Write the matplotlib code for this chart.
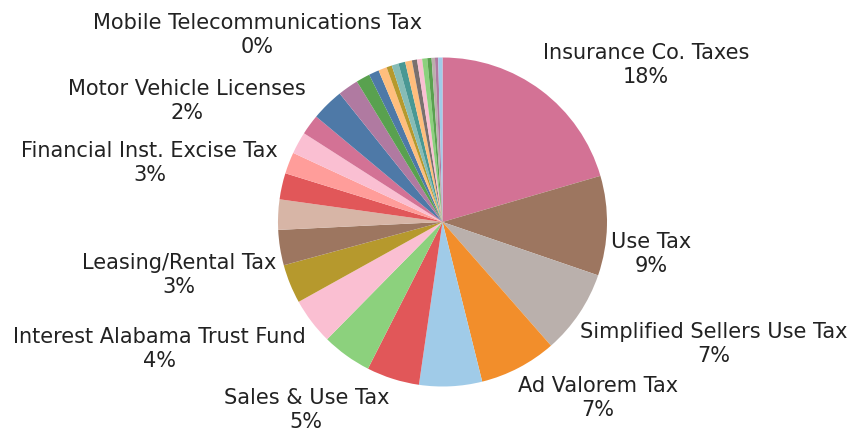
import matplotlib.pyplot as plt

# revenue by source, in the order the wedges are drawn (clockwise from 12 o'clock)
sources = [
    "Insurance Co. Taxes", "Use Tax", "Simplified Sellers Use Tax", "Ad Valorem Tax",
    "Individual Income Tax", "Sales & Use Tax", "Tobacco Tax", "Interest Alabama Trust Fund",
    "Beer Tax", "Leasing/Rental Tax", "Financial Inst. Excise Tax", "Utility Gross Receipts",
    "Oil & Gas Privilege", "Lodgings Tax", "Motor Vehicle Licenses", "Business Privilege Tax",
    "Court Costs", "Gasoline Tax", "Liquor Tax", "Contractors Gross Receipts", "Coal Severance",
    "Store Licenses", "Hazardous Waste Fees", "Pari-Mutuel Tax", "Rental Car Tax",
    "Iron Ore Mining", "Mobile Telecommunications Tax", "Forest Products Severance",
    "Playing Cards Tax", "Hydroelectric Tax", "Miscellaneous",
]
amounts = [
    20.47, 9.78, 8.28, 7.58, 6.17, 5.19, 4.89, 4.56, 3.83, 3.47, 2.97,
    2.58, 2.11, 2.17, 2.00, 3.19, 2.03, 1.36, 1.00, 0.83, 0.53, 0.67,
    0.67, 0.67, 0.50, 0.50, 0.50, 0.42, 0.33, 0.31, 0.42,
]
# revenue that is counted in the total but not broken out in the pie
other_revenue = 13.0

labeled = [
    "Insurance Co. Taxes", "Use Tax", "Simplified Sellers Use Tax", "Ad Valorem Tax",
    "Sales & Use Tax", "Interest Alabama Trust Fund", "Leasing/Rental Tax",
    "Financial Inst. Excise Tax", "Motor Vehicle Licenses", "Mobile Telecommunications Tax",
]

colors = [
    "#D37295", "#9D7660", "#BAB0AC", "#F28E2B", "#A0CBE8", "#E15759", "#8CD17D",
    "#FABFD2", "#B6992D", "#9D7660", "#D7B5A6", "#E15759", "#FF9D9A", "#FABFD2",
    "#D37295", "#4E79A7", "#B07AA1", "#59A14F", "#4E79A7", "#FFBE7D", "#B6992D",
    "#86BCB6", "#499894", "#FFBE7D", "#79706E", "#FABFD2", "#8CD17D", "#59A14F",
    "#BAB0AC", "#B07AA1", "#A0CBE8",
]

# where each label sits, in units of the pie radius
label_pos = {
    "Insurance Co. Taxes": (0.611, 0.954),
    "Use Tax": (1.024, -0.195),
    "Simplified Sellers Use Tax": (0.836, -0.742),
    "Ad Valorem Tax": (0.459, -1.070),
    "Sales & Use Tax": (-0.325, -1.143),
    "Interest Alabama Trust Fund": (-0.830, -0.772),
    "Leasing/Rental Tax": (-1.012, -0.322),
    "Financial Inst. Excise Tax": (-1.0, 0.359),
    "Motor Vehicle Licenses": (-0.830, 0.736),
    "Mobile Telecommunications Tax": (-0.125, 1.137),
}

total = sum(amounts) + other_revenue
labels = []
for name, amt in zip(sources, amounts):
    if name in labeled:
        labels.append("%s\n%d%%" % (name, round(amt / total * 100)))
    else:
        labels.append("")

fig = plt.figure(figsize=(8.52, 4.33), dpi=100)
ax = fig.add_axes([0, 0, 1, 1])

wedges, texts = ax.pie(amounts, labels=labels, colors=colors, startangle=90,
                       counterclock=False, radius=1,
                       textprops=dict(fontsize=15, color='#222222',
                                      multialignment='center', linespacing=1.25))

for name, t in zip(sources, texts):
    if name in label_pos:
        x, y = label_pos[name]
        t.set_position((x, y))
        t.set_ha('left' if x > 0 else 'right')
        t.set_va('center')

R = 164.5
ax.set_xlim(-442.5 / R, (852 - 442.5) / R)
ax.set_ylim(-211 / R, 222 / R)
ax.set_aspect('equal')
ax.axis('off')

fig.savefig('out.png', dpi=100)
